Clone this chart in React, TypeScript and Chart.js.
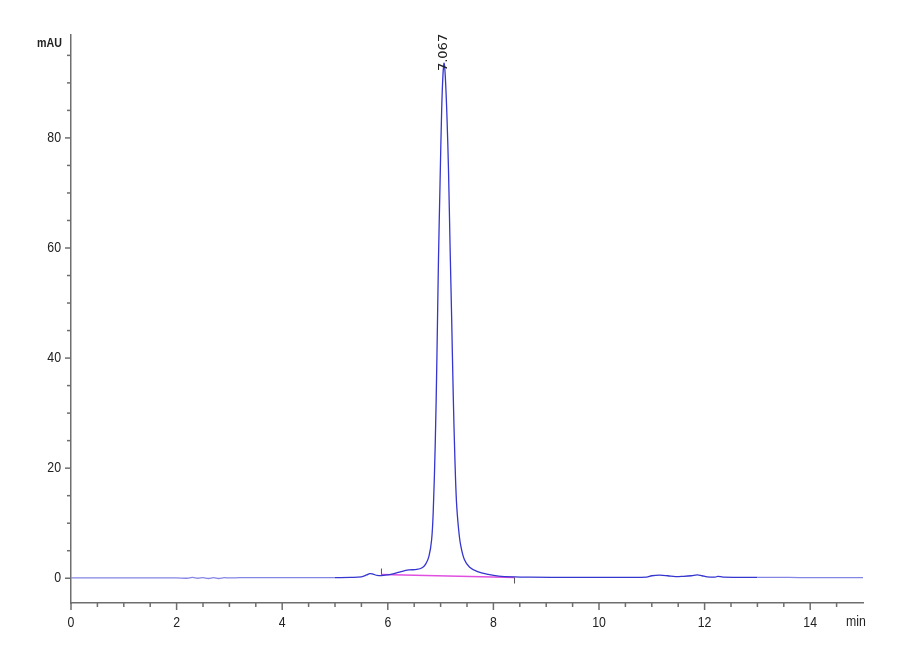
import React, { useEffect, useRef } from "react";
import { Chart, registerables } from "chart.js";

Chart.register(...registerables);

// chromatogram trace (retention time in min, absorbance in mAU)
const timeMin = [
  0, 1.0, 2.0, 2.2, 2.3, 2.4, 2.5, 2.6, 2.7, 2.8, 2.9, 3.0, 3.2, 4.0, 4.8, 5.0,
  5.3, 5.5, 5.6, 5.66, 5.72, 5.8, 5.88, 5.95, 6.1, 6.25, 6.4, 6.55, 6.65, 6.72,
  6.78, 6.83, 6.86, 6.9, 6.93, 6.96, 6.99, 7.02, 7.045, 7.067, 7.09, 7.12, 7.15,
  7.18, 7.21, 7.24, 7.27, 7.3, 7.34, 7.38, 7.45, 7.55, 7.7, 7.9, 8.1, 8.4, 8.7,
  9.5, 10.5, 10.9, 11.0, 11.15, 11.3, 11.45, 11.6, 11.75, 11.86, 11.95, 12.05,
  12.2, 12.25, 12.35, 13.0, 13.6, 14.0, 15.0,
];
const signalMau = [
  0.05, 0.05, 0.05, 0.0, 0.15, 0.0, 0.12, -0.05, 0.1, -0.05, 0.1, 0.05, 0.1, 0.1, 0.1, 0.12,
  0.15, 0.25, 0.6, 0.85, 0.75, 0.5, 0.5, 0.55, 0.8, 1.2, 1.5, 1.6, 1.9, 2.6,
  4.0, 7.0, 12, 25, 40, 58, 72, 85, 91.5, 93.6, 91, 84, 74,
  60, 47, 33, 22, 14, 9, 6, 3.4, 2.0, 1.2, 0.7, 0.4, 0.25, 0.2,
  0.15, 0.15, 0.2, 0.45, 0.55, 0.45, 0.3, 0.35, 0.45, 0.6, 0.45, 0.25,
  0.2, 0.35, 0.2, 0.15, 0.15, 0.1, 0.1,
];

// integration baseline of the main peak
const baseTimes = [5.88, 8.4];
const baseValues = [0.67, 0.13];

// peak annotation
const peakTimes = [7.067];
const peakHeights = [93.6];
const peakLabels = ["7.067"];

// axis tick labels
const xTickLabels = [0, 2, 4, 6, 8, 10, 12, 14];
const yTickLabels = [0, 20, 40, 60, 80];

const TICK_FONT = "15px 'Liberation Sans', Arial, sans-serif";
const PEAK_FONT = "13px 'DejaVu Sans', sans-serif";

const isStep = (v: number, step: number) => Math.abs(v / step - Math.round(v / step)) < 1e-6;

// narrow text like the instrument software
const narrowText = (ctx: CanvasRenderingContext2D, text: string, x: number, y: number) => {
  ctx.save();
  ctx.translate(x, y);
  ctx.scale(0.82, 1);
  ctx.fillText(text, 0, 0);
  ctx.restore();
};

const chromPlugin = {
  id: "chromDecor",
  afterDraw(chart: any) {
    const ctx = chart.ctx;
    const xs = chart.scales.x;
    const ys = chart.scales.y;
    const area = chart.chartArea;
    ctx.save();
    ctx.strokeStyle = "#6e6e6e";
    ctx.lineWidth = 1.5;
    // x ticks
    xs.ticks.forEach((t: any) => {
      const v = t.value;
      if (!isStep(v, 0.5) || v >= 15) return;
      const px = xs.getPixelForValue(v);
      ctx.beginPath();
      ctx.moveTo(px, area.bottom);
      ctx.lineTo(px, area.bottom + (isStep(v, 2) ? 7 : 4));
      ctx.stroke();
    });
    // y ticks
    ys.ticks.forEach((t: any) => {
      const v = t.value;
      if (!isStep(v, 5)) return;
      const py = ys.getPixelForValue(v);
      ctx.beginPath();
      ctx.moveTo(area.left, py);
      ctx.lineTo(area.left - (isStep(v, 20) ? 6 : 4), py);
      ctx.stroke();
    });
    // tick labels
    ctx.fillStyle = "#222";
    ctx.font = TICK_FONT;
    ctx.textBaseline = "middle";
    ctx.textAlign = "center";
    xTickLabels.forEach((v) => narrowText(ctx, String(v), xs.getPixelForValue(v), area.bottom + 20));
    ctx.textAlign = "right";
    yTickLabels.forEach((v) => narrowText(ctx, String(v), area.left - 10, ys.getPixelForValue(v)));
    // baseline end marks
    ctx.strokeStyle = "#555";
    ctx.lineWidth = 1;
    const bx0 = xs.getPixelForValue(baseTimes[0]);
    const by0 = ys.getPixelForValue(baseValues[0]);
    ctx.beginPath();
    ctx.moveTo(bx0, by0);
    ctx.lineTo(bx0, by0 - 6);
    ctx.stroke();
    const bx1 = xs.getPixelForValue(baseTimes[1]);
    const by1 = ys.getPixelForValue(baseValues[1]);
    ctx.beginPath();
    ctx.moveTo(bx1, by1);
    ctx.lineTo(bx1, by1 + 6);
    ctx.stroke();
    // axis units
    ctx.textAlign = "left";
    ctx.font = "bold 13px 'Liberation Sans', Arial, sans-serif";
    narrowText(ctx, "mAU", 37, 43);
    ctx.font = TICK_FONT;
    narrowText(ctx, "min", 846, 622);
    // peak labels
    ctx.font = PEAK_FONT;
    peakTimes.forEach((t, i) => {
      const px = xs.getPixelForValue(t);
      const py = ys.getPixelForValue(peakHeights[i]);
      ctx.save();
      ctx.translate(px - 1, py + 8);
      ctx.rotate(-Math.PI / 2);
      ctx.textAlign = "left";
      ctx.textBaseline = "middle";
      ctx.fillText(peakLabels[i], 0, 0);
      ctx.restore();
    });
    ctx.restore();
  },
};

const App: React.FC = () => {
  const canvasRef = useRef<HTMLCanvasElement | null>(null);

  useEffect(() => {
    if (!canvasRef.current) return;
    const trace = timeMin.map((t, i) => ({ x: t, y: signalMau[i] }));
    const baseline = baseTimes.map((t, i) => ({ x: t, y: baseValues[i] }));
    const chart = new Chart(canvasRef.current, {
      type: "line",
      data: {
        datasets: [
          {
            label: "Signal",
            data: trace,
            borderColor: "#3535cf",
            borderWidth: 1.3,
            pointRadius: 0,
            tension: 0.35,
            segment: {
              borderColor: (c: any) => {
                const x = c.p0.parsed.x;
                return x < 4.95 || x >= 12.9 ? "#8585e6" : "#3535cf";
              },
            },
          },
          {
            label: "Baseline",
            data: baseline,
            borderColor: "#e050e0",
            borderWidth: 1.5,
            pointRadius: 0,
          },
        ],
      },
      options: {
        animation: false,
        responsive: false,
        maintainAspectRatio: false,
        layout: { padding: { top: 35, right: 37, left: 0, bottom: 0 } },
        plugins: { legend: { display: false }, tooltip: { enabled: false } },
        scales: {
          x: {
            type: "linear",
            min: 0,
            max: 15,
            grid: { display: false },
            border: { display: true, color: "#6e6e6e", width: 1.5 },
            ticks: { stepSize: 0.5, autoSkip: false, display: false },
            afterFit: (s: any) => {
              s.height = 57;
            },
          },
          y: {
            type: "linear",
            min: -4.5,
            max: 98.7,
            grid: { display: false },
            border: { display: true, color: "#6e6e6e", width: 1.5 },
            ticks: { stepSize: 5, autoSkip: false, display: false },
            afterFit: (s: any) => {
              s.width = 71;
            },
          },
        },
      },
      plugins: [chromPlugin],
    });
    return () => chart.destroy();
  }, []);

  return (
    <div style={{ position: "fixed", left: 0, top: 0, width: 900, height: 660, background: "#fff" }}>
      <canvas ref={canvasRef} width={900} height={660} style={{ width: 900, height: 660 }} />
    </div>
  );
};

export default App;
